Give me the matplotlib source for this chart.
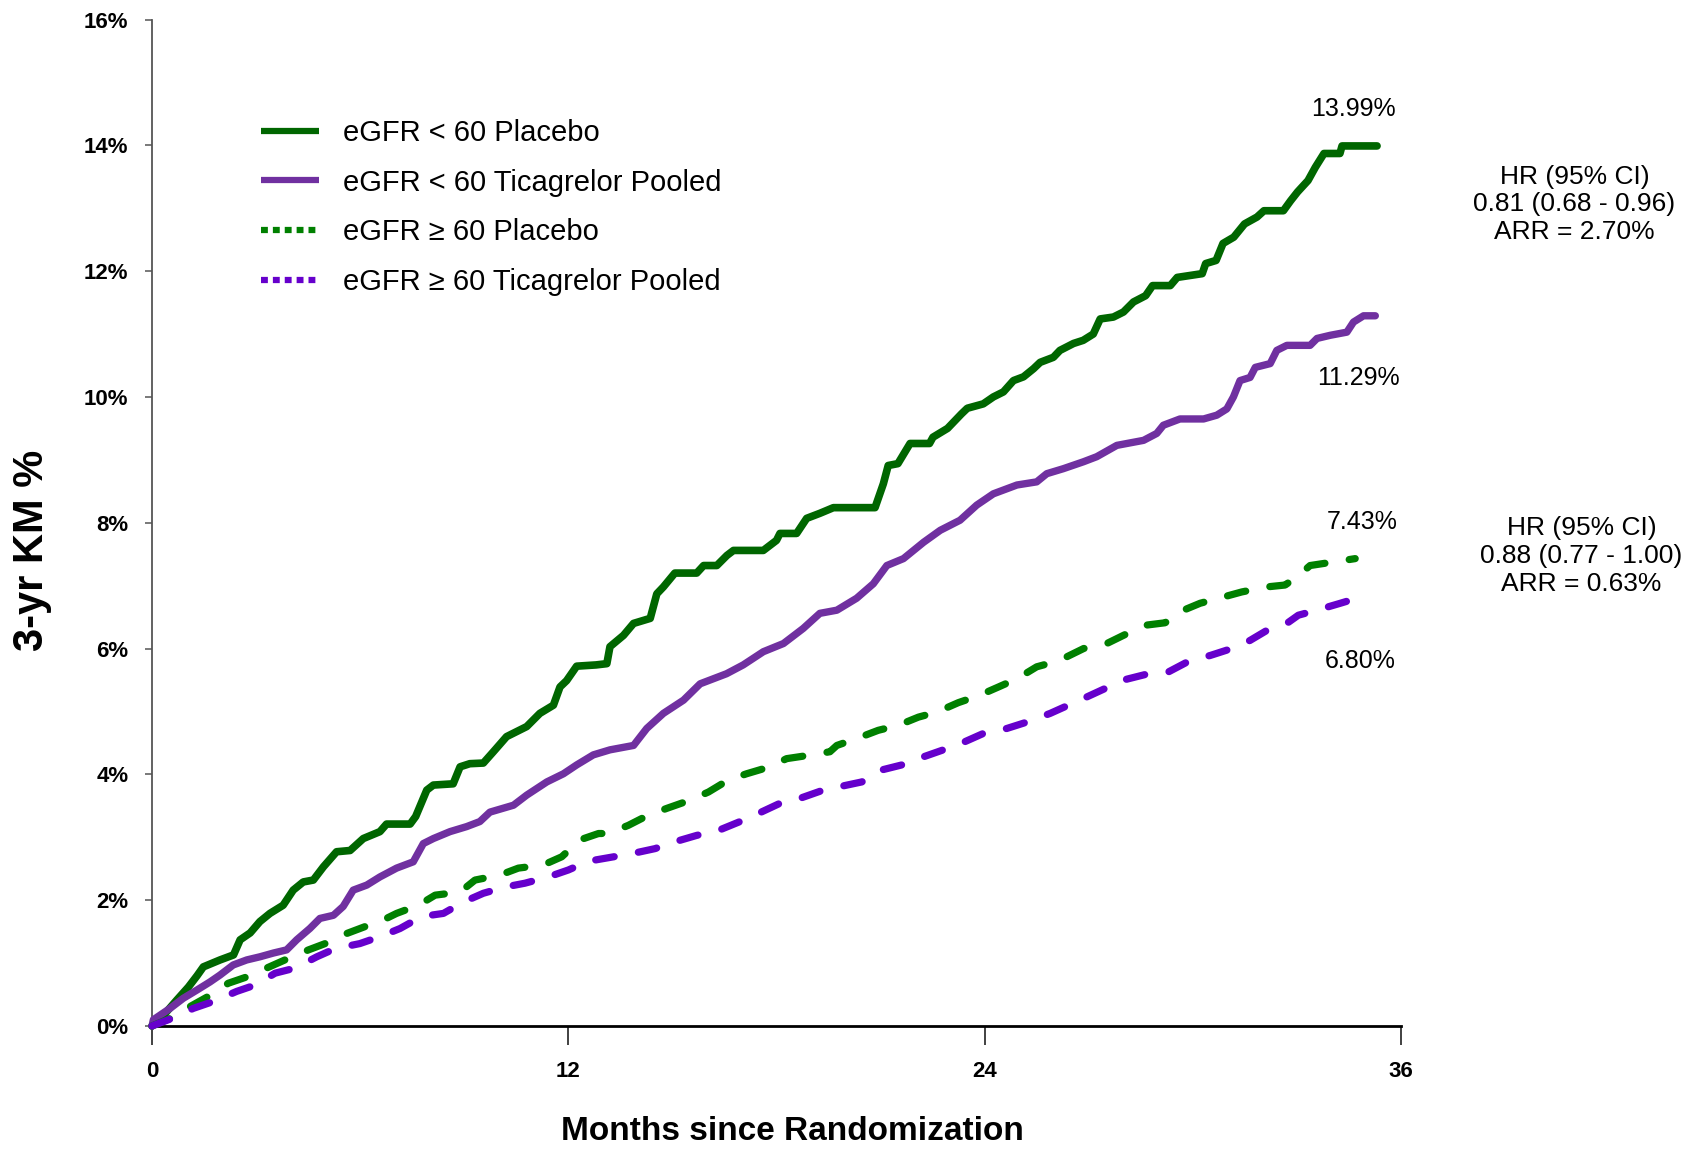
import matplotlib
matplotlib.use("Agg")
import matplotlib.pyplot as plt
from matplotlib.lines import Line2D

plt.rcParams['font.family'] = ['Liberation Sans', 'DejaVu Sans']

# Kaplan-Meier event rates (months since randomization, cumulative %)
gfr_lo_pbo_m = [0, 0.3, 0.71, 1.05, 1.3, 1.48, 1.96, 2.35, 2.54, 2.83, 3.11, 3.40, 3.78, 4.07,
                4.36, 4.65, 4.94, 5.32, 5.71, 6.09, 6.57, 6.76, 7.44, 7.6, 7.92, 8.11, 8.68, 8.88,
                9.16, 9.55, 9.84, 10.22, 10.51, 10.8, 11.18, 11.57, 11.76, 11.95, 12.24, 12.8,
                13.11, 13.2, 13.59, 13.88, 14.36, 14.55, 14.74, 15.07, 15.7, 15.9, 16.28, 16.57,
                16.76, 17.62, 18.0, 18.1, 18.58, 18.87, 19.25, 19.64, 20.84, 21.08, 21.22, 21.5,
                21.85, 22.41, 22.51, 22.93, 23.33, 23.5, 23.96, 24.25, 24.54, 24.83, 25.12, 25.41,
                25.6, 25.98, 26.17, 26.56, 26.84, 27.13, 27.33, 27.71, 28.0, 28.29, 28.64, 28.84,
                29.35, 29.55, 30.27, 30.37, 30.67, 30.87, 31.18, 31.49, 31.85, 32.05, 32.61,
                32.82, 33.02, 33.32, 33.53, 33.78, 34.24, 34.3, 35.31]
gfr_lo_pbo = [0, 0.15, 0.41, 0.62, 0.8, 0.94, 1.05, 1.13, 1.37, 1.48, 1.66, 1.79, 1.92, 2.16,
              2.29, 2.32, 2.53, 2.77, 2.79, 2.98, 3.09, 3.21, 3.21, 3.33, 3.75, 3.83, 3.85, 4.12,
              4.17, 4.18, 4.36, 4.6, 4.68, 4.76, 4.97, 5.1, 5.39, 5.49, 5.72, 5.74,
              5.76, 6.03, 6.21, 6.4, 6.48, 6.87, 6.98, 7.2, 7.2, 7.32, 7.32, 7.48,
              7.56, 7.56, 7.72, 7.83, 7.83, 8.07, 8.15, 8.24, 8.24, 8.62, 8.91, 8.94,
              9.26, 9.26, 9.36, 9.5, 9.73, 9.82, 9.89, 10.0, 10.08, 10.26, 10.32, 10.45,
              10.55, 10.63, 10.74, 10.85, 10.9, 11.0, 11.24, 11.27, 11.35, 11.51, 11.61, 11.77,
              11.77, 11.9, 11.96, 12.12, 12.17, 12.44, 12.54, 12.75, 12.86, 12.96, 12.96,
              13.12, 13.26, 13.44, 13.65, 13.87, 13.87, 13.99, 13.99]

gfr_lo_tica_m = [0, 0.04, 0.52, 0.9, 1.29, 1.67, 1.96, 2.34, 2.73, 3.11, 3.5, 3.88, 4.17, 4.55,
                 4.84, 5.23, 5.51, 5.8, 6.19, 6.57, 7.05, 7.53, 7.82, 8.11, 8.59, 9.07, 9.45,
                 9.74, 10.42, 10.8, 11.38, 11.86, 12.24, 12.72, 13.2, 13.88, 14.26, 14.74, 15.32,
                 15.8, 16.56, 17.04, 17.62, 18.2, 18.77, 19.25, 19.74, 20.31, 20.79, 21.18, 21.66,
                 22.24, 22.72, 23.29, 23.77, 24.25, 24.93, 25.5, 25.79, 26.27, 26.85, 27.23, 27.81,
                 28.58, 28.96, 29.15, 29.63, 30.31, 30.69, 30.98, 31.17, 31.36, 31.65, 31.8, 32.23,
                 32.42, 32.71, 33.38, 33.58, 33.96, 34.44, 34.63, 34.92, 35.26]
gfr_lo_tica = [0, 0.1, 0.28, 0.44, 0.57, 0.7, 0.81, 0.97, 1.05, 1.1, 1.16, 1.21, 1.37, 1.55,
               1.71, 1.76, 1.9, 2.16, 2.24, 2.37, 2.51, 2.61, 2.9, 2.98, 3.09, 3.17, 3.25,
               3.4, 3.51, 3.67, 3.88, 4.01, 4.15, 4.31, 4.39, 4.46, 4.73, 4.97, 5.18,
               5.44, 5.6, 5.74, 5.95, 6.08, 6.32, 6.56, 6.61, 6.8, 7.03, 7.32, 7.43,
               7.69, 7.88, 8.04, 8.28, 8.46, 8.6, 8.65, 8.78, 8.86, 8.97, 9.05, 9.23,
               9.31, 9.42, 9.55, 9.65, 9.65, 9.71, 9.81, 10.0, 10.26, 10.31, 10.47, 10.53,
               10.74, 10.82, 10.82, 10.93, 10.98, 11.03, 11.19, 11.29, 11.29]

gfr_hi_pbo_m = [0, 0.52, 1.1, 1.62, 2.2, 2.73, 3.3, 3.83, 4.51, 4.99, 5.61, 6.14, 6.57, 7.05,
                7.68, 8.16, 8.88, 9.31, 10.03, 10.56, 11.28, 11.81, 12.34, 12.87, 13.15, 13.73,
                14.3, 14.84, 15.51, 16.04, 16.61, 17.14, 17.81, 18.29, 19.02, 19.54, 19.74, 20.31,
                20.93, 21.51, 22.09, 22.62, 23.24, 23.82, 24.4, 24.93, 25.5, 26.03, 26.37, 26.85,
                27.52, 28.0, 28.62, 29.2, 29.73, 30.21, 30.88, 31.41, 32.13, 32.66, 33.0, 33.38,
                34.1, 34.68]
gfr_hi_pbo = [0, 0.12, 0.31, 0.47, 0.68, 0.78, 0.92, 1.05, 1.21, 1.31, 1.47, 1.58, 1.66, 1.79,
              1.92, 2.08, 2.13, 2.32, 2.4, 2.51, 2.56, 2.69, 2.96, 3.06, 3.06, 3.19,
              3.35, 3.46, 3.59, 3.72, 3.91, 4.01, 4.12, 4.25, 4.31, 4.36, 4.46, 4.57,
              4.7, 4.78, 4.91, 4.99, 5.14, 5.25, 5.39, 5.52, 5.71, 5.79, 5.87, 6.0,
              6.08, 6.21, 6.37, 6.41, 6.61, 6.72, 6.82, 6.9, 6.98, 7.01, 7.14, 7.32,
              7.38, 7.43]

gfr_hi_tica_m = [0, 0.57, 1.19, 1.77, 2.44, 2.97, 3.55, 4.12, 4.75, 5.28, 5.99, 6.57, 7.15,
                 7.77, 8.4, 8.97, 9.55, 10.18, 10.75, 11.42, 12.0, 12.58, 13.83, 14.5, 15.08,
                 15.7, 16.33, 16.95, 17.48, 18.1, 18.68, 19.35, 20.46, 21.03, 21.61, 22.24, 22.81,
                 23.43, 23.96, 24.64, 25.21, 25.89, 26.94, 27.57, 28.0, 28.72, 29.3, 29.92, 30.5,
                 31.12, 31.65, 32.23, 32.76, 33.04, 33.57, 34.25, 34.73]
gfr_hi_tica = [0, 0.12, 0.28, 0.39, 0.55, 0.65, 0.84, 0.92, 1.1, 1.23, 1.31, 1.42, 1.55,
               1.74, 1.79, 1.97, 2.11, 2.21, 2.27, 2.37, 2.48, 2.62, 2.74, 2.82, 2.93,
               3.03, 3.11, 3.25, 3.38, 3.54, 3.62, 3.75, 3.88, 4.07, 4.15, 4.28, 4.39,
               4.52, 4.65, 4.73, 4.83, 4.97, 5.23, 5.39, 5.5, 5.6, 5.63, 5.81, 5.89,
               6.0, 6.13, 6.32, 6.42, 6.53, 6.61, 6.72, 6.80]

labels = ["eGFR < 60 Placebo", "eGFR < 60 Ticagrelor Pooled",
          "eGFR \u2265 60 Placebo", "eGFR \u2265 60 Ticagrelor Pooled"]
colors = ["#006600", "#7030A0", "#008000", "#6600CC"]

x_ticks = [0, 12, 24, 36]
y_ticks = [0, 2, 4, 6, 8, 10, 12, 14, 16]

fig = plt.figure(figsize=(16.92, 11.49), dpi=100)
ax = fig.add_axes([152 / 1692, 1 - 1026 / 1149, (1401 - 152) / 1692, (1026 - 19.5) / 1149])

# eGFR < 60: solid curves
ax.plot(gfr_lo_pbo_m, gfr_lo_pbo, color=colors[0], lw=5.5,
        solid_joinstyle='round', solid_capstyle='round', clip_on=False, zorder=3)
ax.plot(gfr_lo_tica_m, gfr_lo_tica, color=colors[1], lw=5.3,
        solid_joinstyle='round', solid_capstyle='round', clip_on=False, zorder=3)
# eGFR >= 60: dashed curves
dash = (0, (2.6, 3.4))
ax.plot(gfr_hi_pbo_m, gfr_hi_pbo, color=colors[2], lw=5.2, linestyle=dash,
        dash_capstyle='round', dash_joinstyle='round', clip_on=False, zorder=3)
ax.plot(gfr_hi_tica_m, gfr_hi_tica, color=colors[3], lw=5.2, linestyle=dash,
        dash_capstyle='round', dash_joinstyle='round', clip_on=False, zorder=3)

ax.set_xlim(0, 36)
ax.set_ylim(0, 16)
ax.set_xticks(x_ticks)
ax.set_xticklabels([str(t) for t in x_ticks], fontsize=16, fontweight='bold')
ax.set_yticks(y_ticks)
ax.set_yticklabels([f"{t}%" for t in y_ticks], fontsize=16, fontweight='bold')

ax.spines['top'].set_visible(False)
ax.spines['right'].set_visible(False)
ax.spines['left'].set_color('#555555')
ax.spines['left'].set_linewidth(1.3)
ax.spines['bottom'].set_color('black')
ax.spines['bottom'].set_linewidth(2)
ax.tick_params(axis='y', direction='out', length=5, width=1.1, color='#555555', pad=12)
ax.tick_params(axis='x', direction='out', length=14, width=1.3, color='#333333', pad=11)

# legend with square-dot markers for the dashed series
handles = [
    Line2D([], [], color=colors[0], lw=4.5, solid_capstyle='butt'),
    Line2D([], [], color=colors[1], lw=4.5, solid_capstyle='butt'),
    Line2D([], [], color=colors[2], lw=4.5, linestyle=(0, (1.1, 0.8)), dash_capstyle='butt'),
    Line2D([], [], color=colors[3], lw=4.5, linestyle=(0, (1.1, 0.8)), dash_capstyle='butt'),
]
fig.legend(handles, labels, loc='upper left', bbox_to_anchor=(261 / 1692, 1 - 119 / 1149),
           frameon=False, fontsize=21, handlelength=2.0, handletextpad=0.8,
           labelspacing=0.74, borderpad=0, borderaxespad=0)

# end-of-curve rates
ax.text(34.62, 14.58, "13.99%", fontsize=18, ha='center', va='center', clip_on=False)
ax.text(34.77, 10.3, "11.29%", fontsize=18, ha='center', va='center', clip_on=False)
ax.text(34.88, 8.01, "7.43%", fontsize=18, ha='center', va='center', clip_on=False)
ax.text(34.82, 5.8, "6.80%", fontsize=18, ha='center', va='center', clip_on=False)

# hazard ratios
ax.text(41.0, 13.06, "HR (95% CI)\n0.81 (0.68 - 0.96)\nARR = 2.70%", fontsize=19,
        ha='center', va='center', multialignment='center', linespacing=1.2, clip_on=False)
ax.text(41.2, 7.47, "HR (95% CI)\n0.88 (0.77 - 1.00)\nARR = 0.63%", fontsize=19,
        ha='center', va='center', multialignment='center', linespacing=1.2, clip_on=False)

fig.text(32 / 1692, 1 - 550 / 1149, "3-yr KM %", rotation=90, fontsize=30,
         fontweight='bold', ha='center', va='center')
fig.text(792 / 1692, 1 - 1131 / 1149, "Months since Randomization", fontsize=24,
         fontweight='bold', ha='center', va='center')

fig.savefig("out.png", dpi=100)
